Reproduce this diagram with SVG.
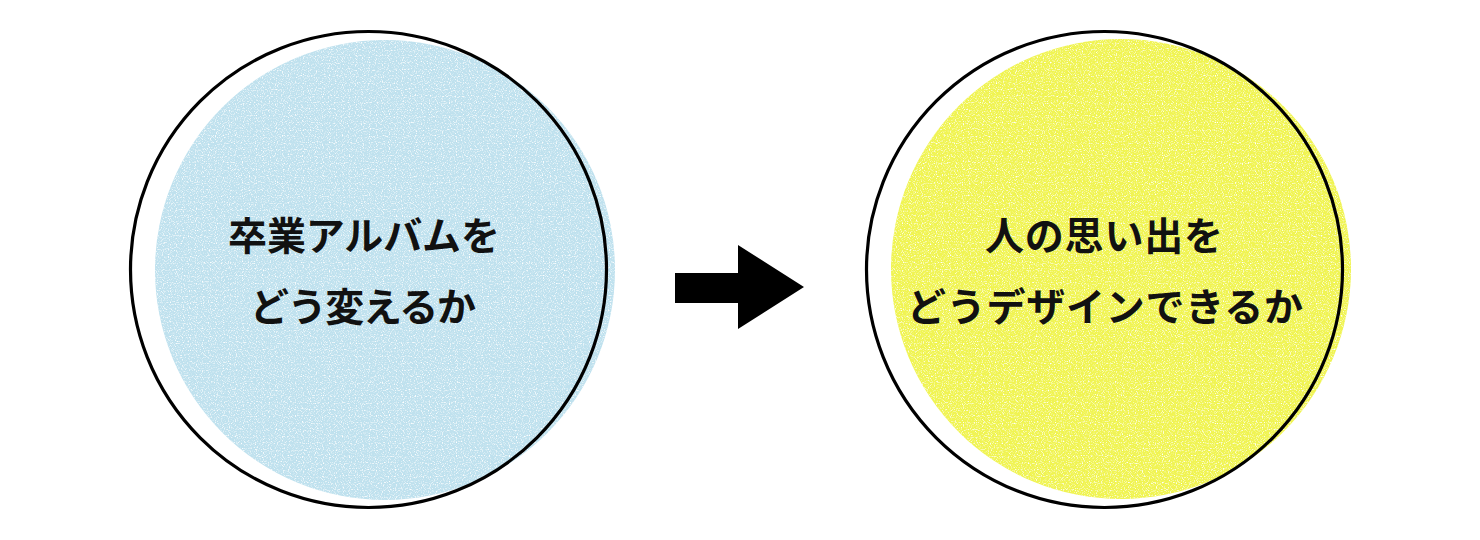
<svg xmlns="http://www.w3.org/2000/svg" width="1480" height="540" viewBox="0 0 1480 540">
  <defs>
    <filter id="speckle" x="0" y="0" width="100%" height="100%" color-interpolation-filters="sRGB">
      <feTurbulence type="fractalNoise" baseFrequency="0.85" numOctaves="1" seed="7" result="n"/>
      <feColorMatrix in="n" type="matrix" values="0 0 0 0 1  0 0 0 0 1  0 0 0 0 1  3.5 0 0 0 -1.75" result="dots"/>
      <feComposite in="dots" in2="SourceGraphic" operator="in" result="d2"/>
      <feMerge><feMergeNode in="SourceGraphic"/><feMergeNode in="d2"/></feMerge>
    </filter>
  </defs>
  <style>
    .ring { fill: none; stroke: #000; stroke-width: 3.2; }
    .label { font-family: "Noto Sans CJK JP", "Noto Sans CJK SC", sans-serif; font-size: 39px; font-weight: 700; fill: #111; text-anchor: middle; }
  </style>
  <rect width="1480" height="540" fill="#fff"/>
  <g id="node-album">
    <circle cx="385" cy="270" r="230" fill="#bfe1ee" filter="url(#speckle)"/>
    <circle class="ring" cx="368.5" cy="269.5" r="238"/>
    <text class="label" x="364" y="250" textLength="272" lengthAdjust="spacing">卒業アルバムを</text>
    <text class="label" x="363" y="321" textLength="226" lengthAdjust="spacing">どう変えるか</text>
  </g>
  <g id="connectors">
    <polygon points="675,273 738,273 738,245 804,287 738,329 738,303 675,303" fill="#000"/>
  </g>
  <g id="node-memory">
    <circle cx="1121" cy="269" r="230" fill="#f0f452" filter="url(#speckle)"/>
    <circle class="ring" cx="1104.5" cy="269.5" r="238"/>
    <text class="label" x="1104" y="250" textLength="238" lengthAdjust="spacing">人の思い出を</text>
    <text class="label" x="1105" y="321" textLength="396" lengthAdjust="spacing">どうデザインできるか</text>
  </g>
</svg>
